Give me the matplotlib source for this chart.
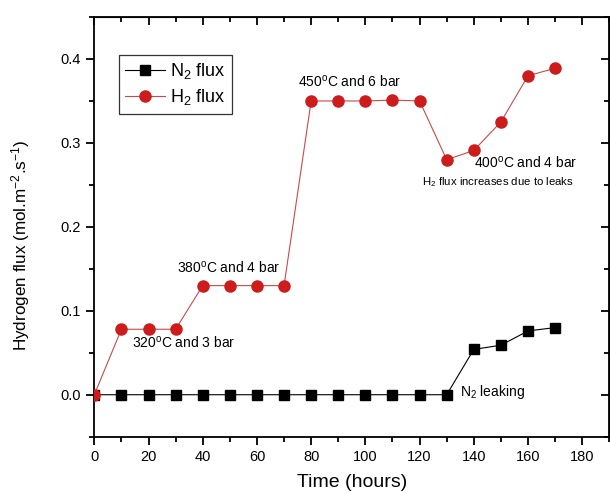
import matplotlib
matplotlib.use("Agg")
import matplotlib.pyplot as plt
from matplotlib.ticker import MultipleLocator

plt.rcParams['font.family'] = ['Liberation Sans', 'DejaVu Sans']
plt.rcParams['mathtext.fontset'] = 'custom'
plt.rcParams['mathtext.rm'] = 'Liberation Sans'
plt.rcParams['mathtext.it'] = 'Liberation Sans:italic'

# Measured fluxes over time
time_n2 = [0, 10, 20, 30, 40, 50, 60, 70, 80, 90, 100, 110, 120, 130, 140, 150, 160, 170]
n2_flux = [0, 0, 0, 0, 0, 0, 0, 0, 0, 0, 0, 0, 0, 0, 0.054, 0.059, 0.076, 0.080]
time_h2 = [0, 10, 20, 30, 40, 50, 60, 70, 80, 90, 100, 110, 120, 130, 140, 150, 160, 170]
h2_flux = [0, 0.078, 0.078, 0.078, 0.130, 0.130, 0.130, 0.130, 0.350, 0.350, 0.350,
           0.351, 0.350, 0.280, 0.291, 0.325, 0.380, 0.389]

fig = plt.figure(figsize=(6.10, 4.93), dpi=100)
ax = fig.add_axes([0.1546, 0.1142, 0.8443, 0.8513])

ax.plot(time_n2, n2_flux, color='black', lw=0.8, marker='s', ms=6.5,
        markerfacecolor='black', markeredgecolor='black', label='N$_2$ flux', zorder=2)
ax.plot(time_h2, h2_flux, color='#c84a4a', lw=0.8, marker='o', ms=8,
        markerfacecolor='#cc1c1c', markeredgecolor='#cc1c1c', label='H$_2$ flux', zorder=3)

ax.set_xlim(0, 190)
ax.set_ylim(-0.05, 0.45)
ax.xaxis.set_major_locator(MultipleLocator(20))
ax.xaxis.set_minor_locator(MultipleLocator(10))
ax.yaxis.set_major_locator(MultipleLocator(0.1))
ax.yaxis.set_minor_locator(MultipleLocator(0.05))
ax.set_xticks([0, 20, 40, 60, 80, 100, 120, 140, 160, 180])

for s in ax.spines.values():
    s.set_linewidth(1.3)

ax.tick_params(which='both', direction='out', top=False, right=False,
               labelsize=10.5, width=1.3)
ax.tick_params(which='major', length=6)
ax.tick_params(which='minor', length=3.5)

# Mirrored inward ticks on the top and right edges
sec_x = ax.secondary_xaxis('top')
sec_x.xaxis.set_major_locator(MultipleLocator(20))
sec_x.xaxis.set_minor_locator(MultipleLocator(10))
sec_x.tick_params(which='both', direction='in', labeltop=False, width=1.3)
sec_x.tick_params(which='major', length=6)
sec_x.tick_params(which='minor', length=3.5)
sec_y = ax.secondary_yaxis('right')
sec_y.yaxis.set_major_locator(MultipleLocator(0.1))
sec_y.yaxis.set_minor_locator(MultipleLocator(0.05))
sec_y.tick_params(which='both', direction='in', labelright=False, width=1.3)
sec_y.tick_params(which='major', length=6)
sec_y.tick_params(which='minor', length=3.5)

ax.set_xlabel('Time (hours)', fontsize=14, labelpad=7)
ax.set_ylabel('Hydrogen flux (mol.m$^{-2}$.s$^{-1}$)', fontsize=12.3)
ax.yaxis.set_label_coords(-0.121, 0.457)

fs = 10
ax.text(13.9, 0.062, '320$^{\\rm o}$C and 3 bar', fontsize=fs, va='center', ha='left')
ax.text(30.4, 0.151, '380$^{\\rm o}$C and 4 bar', fontsize=fs, va='center', ha='left')
ax.text(75.3, 0.373, '450$^{\\rm o}$C and 6 bar', fontsize=fs, va='center', ha='left')
ax.text(140.0, 0.276, '400$^{\\rm o}$C and 4 bar', fontsize=fs, va='center', ha='left')
ax.text(121.0, 0.253, 'H$_2$ flux increases due to leaks', fontsize=8.2, va='center', ha='left')
ax.text(135.0, 0.003, 'N$_2$ leaking', fontsize=fs, va='center', ha='left')

leg = ax.legend(loc='upper left', bbox_to_anchor=(0.047, 0.91), fontsize=13,
                frameon=True, fancybox=False, edgecolor='black', handlelength=2.2,
                handletextpad=0.3, borderpad=0.35, labelspacing=0.35, borderaxespad=0)
leg.get_frame().set_linewidth(0.9)

fig.savefig('out.png', dpi=100)
